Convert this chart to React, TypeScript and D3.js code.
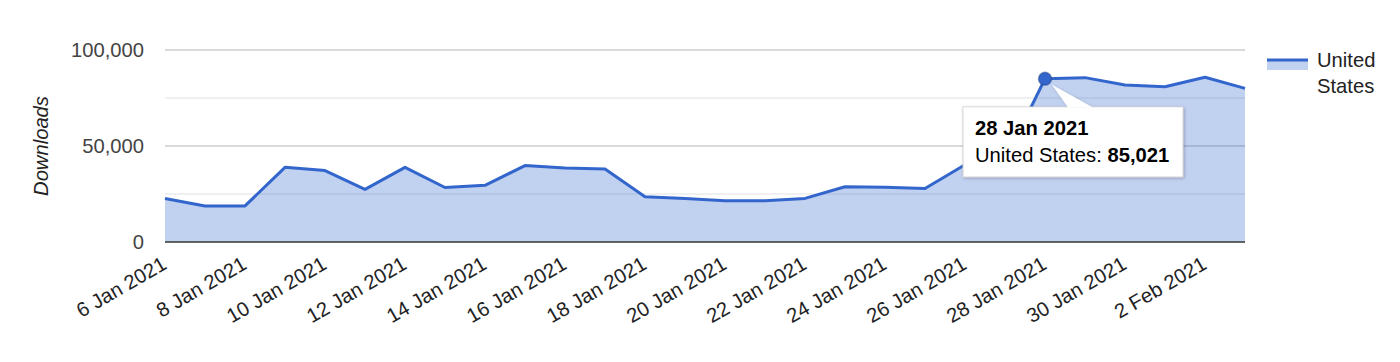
import * as d3 from 'd3';

const dates = [
  '6 Jan 2021', '7 Jan 2021', '8 Jan 2021', '9 Jan 2021', '10 Jan 2021', '11 Jan 2021',
  '12 Jan 2021', '13 Jan 2021', '14 Jan 2021', '15 Jan 2021', '16 Jan 2021', '17 Jan 2021',
  '18 Jan 2021', '19 Jan 2021', '20 Jan 2021', '21 Jan 2021', '22 Jan 2021', '23 Jan 2021',
  '24 Jan 2021', '25 Jan 2021', '26 Jan 2021', '27 Jan 2021', '28 Jan 2021', '29 Jan 2021',
  '30 Jan 2021', '1 Feb 2021', '2 Feb 2021', '3 Feb 2021',
];

const usDownloads = [
  22700, 18800, 18800, 38900, 37200, 27400,
  38900, 28400, 29500, 39800, 38600, 38000,
  23600, 22700, 21500, 21500, 22700, 28800,
  28500, 27900, 40200, 42500, 85021, 85600,
  81800, 80900, 85800, 80000,
];

const majorTicks = [0, 50000, 100000];
const minorTicks = [25000, 75000];
const seriesName = 'United States';
const highlighted = '28 Jan 2021';

const WIDTH = 1400;
const HEIGHT = 362;
const FONT = "Arial, 'Liberation Sans', sans-serif";
const FS = 20.2;
const BLUE = '#3366cc';

export default function App() {
  const x = d3.scalePoint<string>().domain(dates).range([165, 1245]).padding(0);
  const y = d3.scaleLinear().domain([0, 100000]).range([242, 50]);
  const fmt = d3.format(',');

  const points = dates.map((d, i) => ({ d, v: usDownloads[i] }));

  const area = d3.area<{ d: string; v: number }>()
    .x(p => x(p.d)!)
    .y0(y(0))
    .y1(p => y(p.v));

  const line = d3.line<{ d: string; v: number }>()
    .x(p => x(p.d)!)
    .y(p => y(p.v));

  const hiIdx = dates.indexOf(highlighted);
  const hx = x(highlighted)!;
  const hy = y(usDownloads[hiIdx]);

  // tooltip box
  const tipX = 963;
  const tipY = 107;
  const tipW = 220;
  const tipH = 70;

  return (
    <svg
      width={WIDTH}
      height={HEIGHT}
      style={{ position: 'absolute', left: 0, top: 0, background: '#fff' }}
      fontFamily={FONT}
    >
      <defs>
        <filter id="tipShadow" x="-10%" y="-20%" width="120%" height="150%">
          <feDropShadow dx="1" dy="1" stdDeviation="1.5" floodColor="#000" floodOpacity="0.25" />
        </filter>
      </defs>

      {/* gridlines */}
      {minorTicks.map(t => (
        <line key={`m${t}`} x1={165} x2={1245} y1={y(t)} y2={y(t)} stroke="#ebebeb" strokeWidth={1.5} />
      ))}
      {majorTicks.filter(t => t !== 0).map(t => (
        <line key={`g${t}`} x1={165} x2={1245} y1={y(t)} y2={y(t)} stroke="#cccccc" strokeWidth={1.5} />
      ))}

      {/* series */}
      <path d={area(points) ?? ''} fill={BLUE} fillOpacity={0.3} />
      <line x1={165} x2={1245} y1={y(0)} y2={y(0)} stroke="#333" strokeWidth={1.5} />
      <path d={line(points) ?? ''} fill="none" stroke={BLUE} strokeWidth={3} strokeLinejoin="round" />

      {/* y axis */}
      {majorTicks.map(t => (
        <text key={`yl${t}`} x={144} y={y(t)} dy="0.35em" textAnchor="end" fontSize={FS} fill="#444">
          {fmt(t)}
        </text>
      ))}
      <text
        transform="translate(48,146) rotate(-90)"
        textAnchor="middle"
        fontSize={FS}
        fontStyle="italic"
        fill="#222"
      >
        Downloads
      </text>

      {/* x axis labels */}
      {dates.map((d, i) =>
        i % 2 === 0 ? (
          <text
            key={d}
            transform={`translate(${x(d)! + 3},268) rotate(-30)`}
            textAnchor="end"
            fontSize={FS}
            fill="#222"
          >
            {d}
          </text>
        ) : null,
      )}

      {/* legend */}
      <rect x={1267} y={60} width={41} height={10} fill={BLUE} fillOpacity={0.3} />
      <line x1={1267} x2={1308} y1={60} y2={60} stroke={BLUE} strokeWidth={3} />
      <text x={1317} y={67} fontSize={FS} fill="#222">United</text>
      <text x={1317} y={93} fontSize={FS} fill="#222">States</text>

      {/* tooltip */}
      <g filter="url(#tipShadow)">
        <rect x={tipX} y={tipY} width={tipW} height={tipH} fill="#fff" stroke="#d0d0d0" strokeWidth={1} />
        <path d={`M${hx + 7},${hy + 6} L${tipX + 105},${tipY + 0.5} L${tipX + 130},${tipY + 0.5} Z`} fill="#fff" />
      </g>
      <rect x={tipX + 0.5} y={tipY + 0.5} width={tipW - 1} height={3} fill="#fff" />
      <text x={tipX + 12} y={tipY + 28} fontSize={FS} fontWeight="bold" fill="#000">
        {highlighted}
      </text>
      <text x={tipX + 12} y={tipY + 55} fontSize={FS} fill="#000">
        {seriesName}: <tspan fontWeight="bold">{fmt(usDownloads[hiIdx])}</tspan>
      </text>

      <circle cx={hx} cy={hy} r={6.5} fill={BLUE} stroke="#1f3f80" strokeOpacity={0.45} strokeWidth={1.5} />
    </svg>
  );
}
